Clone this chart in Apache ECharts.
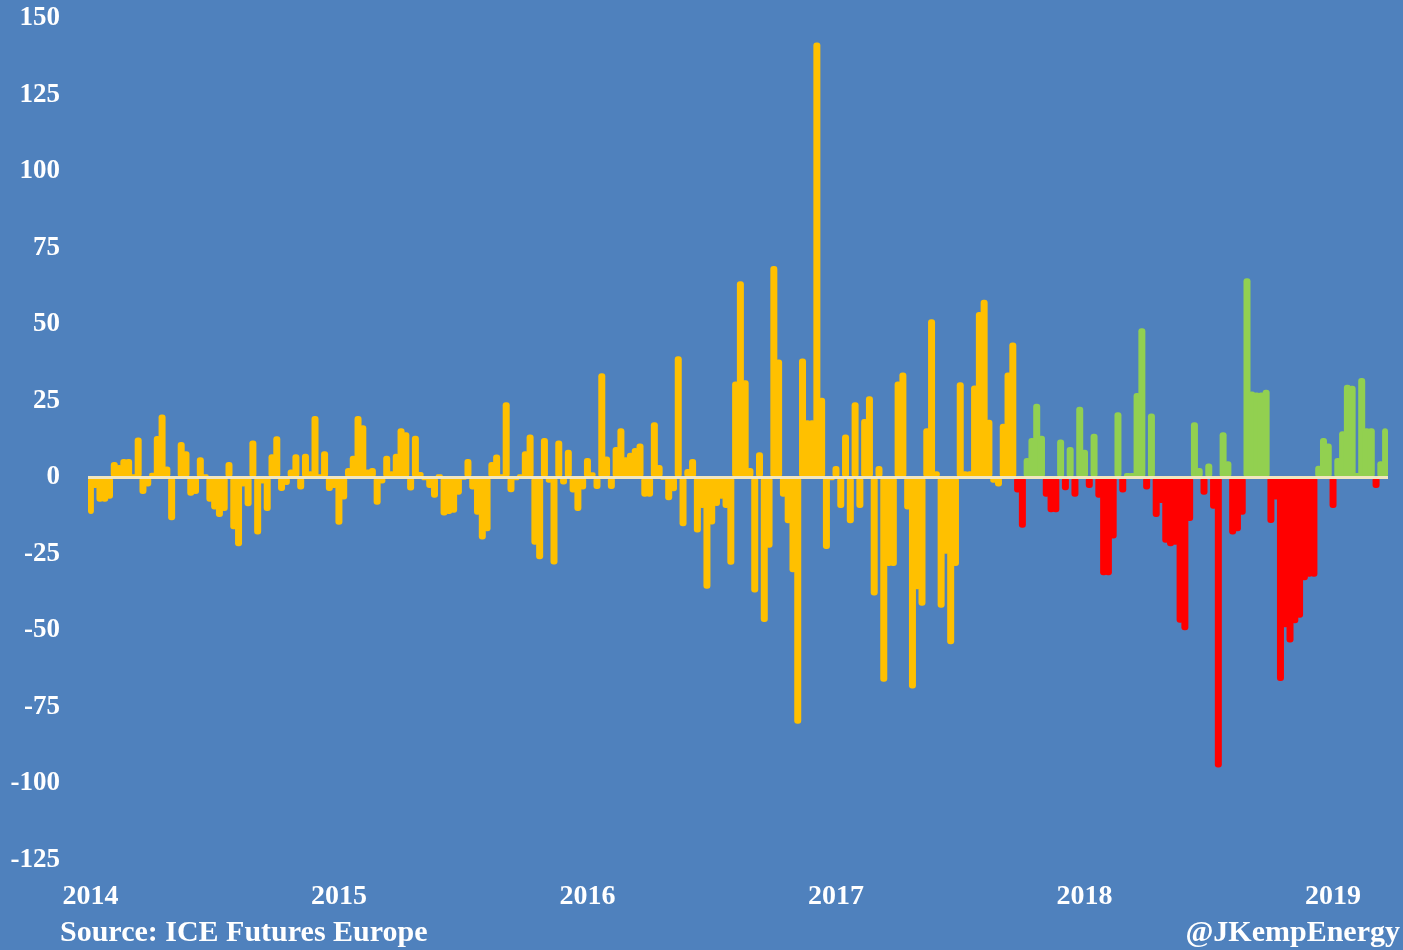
<!DOCTYPE html>
<html>
<head>
<meta charset="utf-8">
<script src="https://cdn.jsdelivr.net/npm/echarts@6/dist/echarts.min.js"></script>
<style>
    html, body { margin: 0; padding: 0; background: #4f81bd; }
    #main { width: 1403px; height: 950px; }
</style>
</head>
<body>
<div id="main"></div>
<script>
// weekly readings, first week = 7 Jan 2014
const firstWeek = '2014-01-07';
const colourChangeWeek = 194; // from here on: green up / red down

const values2014 = [-12, -3.5, -8, -8, -7, 5, 4, 6, 6, 1, 13, -5.5, -3, 1.5, 13.5, 20.5, 3.5, -14, -0.5, 11.5,
    8.5, -6, -5.5, 6.5, 1, -8, -10.5, -13, -11, 5, -17, -22.5, -3, -9.5, 12, -18.7, -2, -11, 7.5, 13.4,
    -4.5, -2.5, 2.5, 7.5, -4, 7.7, 2, 20, 1, 8.5, -4.5, -3.5];
const values2015 = [-15.5, -7.3, 3, 7, 20, 17, 2.5, 3, -9, -2, 7, 2, 7.7, 16, 14.7, -4.3, 13.6, 1.7, -1, -3.5,
    -6.7, 1, -12.5, -12, -11.6, -5.7, -0.8, 6, -4, -12.2, -20.3, -17.6, 5, 7.4, 1, 24.5, -4.9, -1, 1, 8.5,
    14, -22, -26.8, 12.8, -1.8, -28.5, 12, -2.4, 9, -5, -11, -4];
const values2016 = [6.3, 1.6, -3.8, 34, 6.8, -3.8, 9.9, 16, 6.5, 8, 9.6, 11, -6.4, -6.4, 18, 4, -0.8, -7.5, -4.6, 39.5,
    -16, 2.7, 6, -18, -10, -36.4, -15.4, -9.4, -7, -10, -28.6, 31.3, 64, 31.7, 3, -37.6, 8.2, -47.3, -23, 69,
    38.5, -6.4, -15, -31, -80.5, 38.8, 18.6, 18.6, 142, 26, -23.4, -1];
const values2017 = [3.7, -10, 14, -15, 24.5, -10, 19, 26.5, -38.6, 3.7, -66.8, -29, -29, 31.3, 34.2, -10.5, -69, -36.6, -42, 16,
    51.6, 2, -42.6, -25, -54.5, -29, 31, 2, 2, 30, 54, 58, 18.8, -1.8, -3, 17.5, 34.2, 44, -5, -16.5,
    6.3, 12.8, 24, 13.6, -6.4, -11.4, -11.4, 12.3, -4.2, 9.9, -6.4, 23];
const values2018 = [9, -3.5, 14.2, -6.7, -32, -32, -20, 21.2, -5, 1.4, 1.4, 27.5, 48.7, -4, 20.8, -13, -8.4, -21.4, -22.5, -22,
    -47.5, -50, -14.3, 18, 3, -5.7, 4.5, -10.3, -94.8, 14.7, 5.2, -18.7, -17.6, -12.2, 65, 28, 27.7, 27.7, 28.6, -14.9,
    -7.3, -66.5, -49, -54, -47.7, -45.9, -33.6, -32.5, -32.5, 3.8, 12.8, 11];
const values2019 = [-10, 6.3, 15, 30.2, 29.9, 1.4, 32.4, 16, 16, -3.5, 5.2, 16];

const yTicks = [-125, 150, 25]; // min, max, step

const values = [].concat(values2014, values2015, values2016, values2017, values2018, values2019);

// week dates for the category axis
const weeks = [];
let d = new Date(firstWeek + 'T00:00:00Z');
for (let i = 0; i < values.length; i++) {
    weeks.push(d.toISOString().slice(0, 10));
    d = new Date(d.getTime() + 7 * 24 * 3600 * 1000);
}

const yellow = values.map((v, i) => i < colourChangeWeek ? v : '-');
const green = values.map((v, i) => i >= colourChangeWeek && v >= 0 ? v : '-');
const red = values.map((v, i) => i >= colourChangeWeek && v < 0 ? v : '-');

const textFont = { color: '#ffffff', fontFamily: 'Liberation Serif', fontWeight: 'bold' };

const chart = echarts.init(document.getElementById('main'));

const barStyle = (colour) => ({
    type: 'bar',
    barWidth: 7,
    barGap: '-100%',
    itemStyle: { color: colour, borderRadius: 3 },
    silent: true
});

chart.setOption({
    backgroundColor: '#4f81bd',
    animation: false,
    title: [
        { text: 'Source: ICE Futures Europe', left: 60, top: 918, padding: 0,
          textStyle: Object.assign({ fontSize: 30 }, textFont) },
        { text: '@JKempEnergy', right: 3, top: 918, padding: 0,
          textStyle: Object.assign({ fontSize: 30 }, textFont) }
    ],
    grid: { left: 88, right: 15, top: 18, bottom: 90 },
    xAxis: {
        type: 'category',
        data: weeks,
        axisLine: { show: false },
        axisTick: { show: false },
        axisLabel: Object.assign({
            fontSize: 28,
            margin: 23,
            interval: 0,
            formatter: (val, idx) => {
                if (idx === 0 || weeks[idx - 1].slice(0, 4) !== val.slice(0, 4)) return val.slice(0, 4);
                return '';
            }
        }, textFont)
    },
    yAxis: {
        type: 'value',
        min: yTicks[0],
        max: yTicks[1],
        interval: yTicks[2],
        splitLine: { show: false },
        axisLine: { show: false },
        axisTick: { show: false },
        axisLabel: Object.assign({ fontSize: 27, margin: 28 }, textFont)
    },
    series: [
        Object.assign(barStyle('#ffc000'), { name: 'yellow', data: yellow }),
        Object.assign(barStyle('#92d050'), { name: 'green', data: green }),
        Object.assign(barStyle('#ff0000'), {
            name: 'red',
            data: red,
            markLine: {
                silent: true,
                symbol: 'none',
                label: { show: false },
                lineStyle: { color: '#f1e6bf', width: 3, type: 'solid' },
                data: [{ yAxis: 0 }]
            }
        })
    ]
});
</script>
</body>
</html>
